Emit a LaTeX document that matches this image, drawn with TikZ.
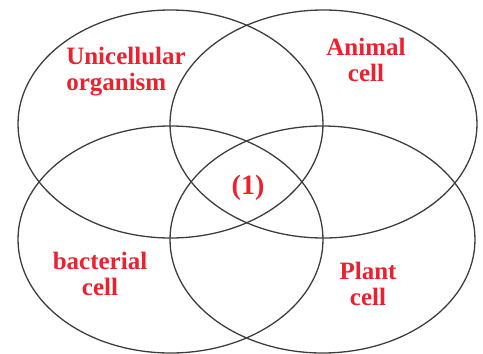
\documentclass[tikz,border=0pt]{standalone}
\usepackage{fontspec}
\setmainfont{Liberation Serif}[BoldFont={* Bold}]
\definecolor{labelred}{RGB}{236,32,46}
\definecolor{ringgray}{RGB}{64,60,60}
\tikzset{
  ring/.style={draw=ringgray, line width=1.3pt},
  setlabel/.style={text=labelred, font=\fontsize{25}{26}\selectfont\bfseries, inner sep=0pt}
}
\begin{document}
\begin{tikzpicture}[x=1pt, y=-1pt]
\useasboundingbox (0,0) rectangle (483,354);
\draw[ring] (170.5,124) ellipse [x radius=152.5, y radius=114];
\draw[ring] (323.5,124) ellipse [x radius=153.5, y radius=114];
\draw[ring] (170.5,239.5) ellipse [x radius=152.5, y radius=113.5];
\draw[ring] (322.5,239.5) ellipse [x radius=152.5, y radius=113.5];
\node[setlabel, align=left] (uni) at (126,72) {Unicellular\\organism};
\node[setlabel, align=center] (ani) at (366,60) {Animal\\cell};
\node[setlabel, align=center] (bac) at (100,274) {bacterial\\cell};
\node[setlabel, align=center] (pla) at (368,284) {Plant\\cell};
\node[setlabel, font=\fontsize{28}{30}\selectfont\bfseries] (one) at (248,188) {(1)};
\end{tikzpicture}
\end{document}
